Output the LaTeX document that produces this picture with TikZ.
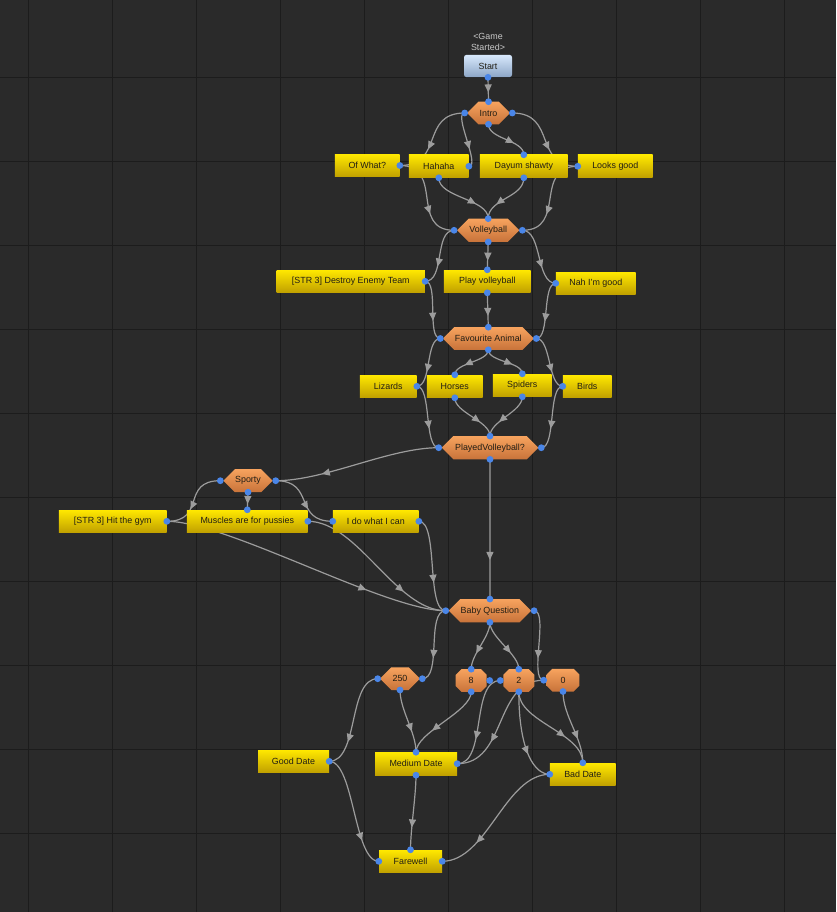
\documentclass[tikz,border=0pt]{standalone}
\usepackage{fontspec}
\setmainfont{Liberation Sans}
\usetikzlibrary{shapes.misc,arrows.meta,decorations.markings}
\definecolor{canvas}{HTML}{2A2A2A}
\definecolor{gridline}{HTML}{1C1C1C}
\definecolor{wire}{HTML}{9C9C9C}
\definecolor{portblue}{HTML}{4A86E8}
\definecolor{answertop}{HTML}{FFE800}
\definecolor{answerbot}{HTML}{C0A000}
\definecolor{questop}{HTML}{F7A35E}
\definecolor{quesbot}{HTML}{C8733A}
\definecolor{starttop}{HTML}{D8E8FC}
\definecolor{startbot}{HTML}{8CA6C6}
\definecolor{nodetext}{HTML}{221E14}
\definecolor{captiontext}{HTML}{C8C8C8}
\pgfdeclarelayer{grid}
\pgfdeclarelayer{wires}
\pgfsetlayers{grid,wires,main}

\begin{document}
\begin{tikzpicture}[x=1pt,y=-1pt,
  every node/.style={font=\fontsize{8.9}{10.5}\selectfont,text=nodetext},
  answer/.style={rectangle,minimum height=22.6pt,inner sep=0pt,top color=answertop,bottom color=answerbot},
  question/.style={chamfered rectangle,chamfered rectangle xsep=8pt,chamfered rectangle ysep=7.5pt,
    minimum height=22.6pt,inner sep=0pt,outer xsep=3pt,outer ysep=0pt,top color=questop,bottom color=quesbot},
  startbox/.style={rectangle,rounded corners=2.5pt,minimum width=48pt,minimum height=22.3pt,inner sep=0pt,
    top color=starttop,bottom color=startbot},
  caption/.style={align=center,text=captiontext,inner sep=0pt},
  link/.style={draw=wire,line width=1.2pt,postaction={decorate},
    decoration={markings,mark=at position #1 with {\arrow{Triangle[width=7pt,length=8pt]}}}},
  link/.default=0.67,
  port/.style={fill=portblue},
  gridrule/.style={draw=gridline,line width=1pt}]
\useasboundingbox (0,0) rectangle (836,912);
\begin{pgfonlayer}{grid}
\fill[canvas] (0,0) rectangle (836,912);
\foreach \i in {0,...,9} \draw[gridrule] (28.3+84*\i,0) -- (28.3+84*\i,912);
\foreach \i in {0,...,9} \draw[gridrule] (0,77.3+84*\i) -- (836,77.3+84*\i);
\end{pgfonlayer}

\node[caption] (gamestarted) at (488,42) {<Game\\Started>};
\node[startbox] (start) at (488,66) {Start};

\node[question,minimum width=41.6pt] (intro) at (488.5,113) {Intro};
\node[answer,minimum width=64.7pt] (ofwhat) at (367.3,165.5) {Of What?};
\node[answer,minimum width=59.7pt] (hahaha) at (438.8,166.3) {Hahaha};
\node[answer,minimum width=87.7pt] (dayum) at (523.8,166.3) {Dayum shawty};
\node[answer,minimum width=74.7pt] (looks) at (615.3,166.3) {Looks good};

\node[question,minimum width=62.3pt] (volleyball) at (488.2,230.3) {Volleyball};
\node[answer,minimum width=148.3pt] (destroy) at (350.8,281.3) {[STR 3] Destroy Enemy Team};
\node[answer,minimum width=86.7pt] (playvb) at (487.3,281.3) {Play volleyball};
\node[answer,minimum width=79.7pt] (nah) at (595.8,283.3) {Nah I'm good};

\node[question,minimum width=90pt] (favanimal) at (488.3,338.5) {Favourite Animal};
\node[answer,minimum width=56.7pt] (lizards) at (388.3,386.3) {Lizards};
\node[answer,minimum width=55.7pt] (horses) at (454.8,386.3) {Horses};
\node[answer,minimum width=58.7pt] (spiders) at (522.3,385.3) {Spiders};
\node[answer,minimum width=48.7pt] (birds) at (587.3,386.3) {Birds};

\node[question,minimum width=96.6pt] (played) at (490,447.7) {PlayedVolleyball?};
\node[question,minimum width=49.4pt] (sporty) at (248,480.7) {Sporty};
\node[answer,minimum width=107.7pt] (gym) at (112.8,521.3) {[STR 3] Hit the gym};
\node[answer,minimum width=120.7pt] (muscles) at (247.3,521.3) {Muscles are for pussies};
\node[answer,minimum width=85.7pt] (ido) at (375.8,521.3) {I do what I can};

\node[question,minimum width=82.3pt] (babyq) at (489.9,610.7) {Baby Question};
\node[question,minimum width=38.6pt] (n250) at (400,678.7) {250};
\node[question,minimum width=31pt] (n8) at (471.2,680.5) {8};
\node[question,minimum width=31pt] (n2) at (518.8,680.5) {2};
\node[question,minimum width=32.6pt] (n0) at (563,680.2) {0};
\node[answer,minimum width=71pt] (gooddate) at (293.5,761.3) {Good Date};
\node[answer,minimum width=82pt] (meddate) at (416,763.7) {Medium Date};
\node[answer,minimum width=65.7pt] (baddate) at (582.8,774.3) {Bad Date};
\node[answer,minimum width=63pt] (farewell) at (410.5,861.3) {Farewell};

\begin{pgfonlayer}{wires}
\draw[link=0.62] (start.south) -- (intro.north);
\draw[link=0.62] (intro.west) .. controls +(-45,0) and +(45,0) .. (ofwhat.east);
\draw[link] (intro.west) .. controls +(-12,0) and +(12,0) .. (hahaha.east);
\draw[link] (intro.south) .. controls +(0,15) and +(0,-15) .. (dayum.north);
\draw[link=0.62] (intro.east) .. controls +(45,0) and +(-45,0) .. (looks.west);
\draw[link] (ofwhat.east) .. controls +(45,0) and +(-45,0) .. (volleyball.west);
\draw[link=0.7] (hahaha.south) .. controls +(0,20) and +(0,-20) .. (volleyball.north);
\draw[link=0.7] (dayum.south) .. controls +(0,20) and +(0,-20) .. (volleyball.north);
\draw[link] (looks.west) .. controls +(-45,0) and +(45,0) .. (volleyball.east);
\draw[link] (volleyball.west) .. controls +(-20,0) and +(20,0) .. (destroy.east);
\draw[link] (volleyball.south) -- (playvb.north);
\draw[link] (volleyball.east) .. controls +(20,0) and +(-20,0) .. (nah.west);
\draw[link] (destroy.east) .. controls +(14,0) and +(-14,0) .. (favanimal.west);
\draw[link] (playvb.south) -- (favanimal.north);
\draw[link] (nah.west) .. controls +(-14,0) and +(14,0) .. (favanimal.east);
\draw[link] (favanimal.west) .. controls +(-15,0) and +(15,0) .. (lizards.east);
\draw[link] (favanimal.south) .. controls +(0,12) and +(0,-12) .. (horses.north);
\draw[link] (favanimal.south) .. controls +(0,12) and +(0,-12) .. (spiders.north);
\draw[link] (favanimal.east) .. controls +(15,0) and +(-15,0) .. (birds.west);
\draw[link] (lizards.east) .. controls +(15,0) and +(-15,0) .. (played.west);
\draw[link] (horses.south) .. controls +(0,15) and +(0,-15) .. (played.north);
\draw[link] (spiders.south) .. controls +(0,15) and +(0,-15) .. (played.north);
\draw[link] (birds.west) .. controls +(-15,0) and +(15,0) .. (played.east);
\draw[link=0.72] (played.west) .. controls +(-50,0) and +(50,0) .. (sporty.east);
\draw[link=0.72] (played.south) -- (babyq.north);
\draw[link=0.62] (sporty.west) .. controls +(-40,0) and +(40,0) .. (gym.east);
\draw[link] (sporty.south) -- (muscles.north);
\draw[link=0.62] (sporty.east) .. controls +(40,0) and +(-40,0) .. (ido.west);
\draw[link=0.72] (gym.east) .. controls +(60,0) and +(-60,0) .. (babyq.west);
\draw[link=0.72] (muscles.east) .. controls +(50,0) and +(-50,0) .. (babyq.west);
\draw[link] (ido.east) .. controls +(20,0) and +(-20,0) .. (babyq.west);
\draw[link] (babyq.west) .. controls +(-20,0) and +(20,0) .. (n250.east);
\draw[link] (babyq.south) .. controls +(0,15) and +(0,-15) .. (n8.north);
\draw[link] (babyq.south) .. controls +(0,15) and +(0,-15) .. (n2.north);
\draw[link] (babyq.east) .. controls +(15,0) and +(-15,0) .. (n0.west);
\draw[link=0.72] (n250.west) .. controls +(-30,0) and +(30,0) .. (gooddate.east);
\draw[link] (n250.south) .. controls +(0,20) and +(0,-20) .. (meddate.north);
\draw[link] (n8.south) .. controls +(0,20) and +(0,-20) .. (meddate.north);
\draw[link] (n2.west) .. controls +(-30,0) and +(30,0) .. (meddate.east);
\draw[link] (n0.west) .. controls +(-50,0) and +(50,0) .. (meddate.east);
\draw[link] (n2.south) .. controls +(0,60) and +(-15,0) .. (baddate.west);
\draw[link] (n2.south) .. controls +(0,30) and +(0,-30) .. (baddate.north);
\draw[link] (n0.south) .. controls +(0,25) and +(0,-25) .. (baddate.north);
\draw[link=0.72] (baddate.west) .. controls +(-45,0) and +(45,0) .. (farewell.east);
\draw[link=0.76] (gooddate.east) .. controls +(25,0) and +(-25,0) .. (farewell.west);
\draw[link=0.7] (meddate.south) .. controls +(0,20) and +(0,-20) .. (farewell.north);
\end{pgfonlayer}

\fill[port] (start.south) circle (3.4pt)
  (intro.north) circle (3.4pt) (intro.west) circle (3.4pt) (intro.east) circle (3.4pt) (intro.south) circle (3.4pt)
  (ofwhat.east) circle (3.4pt) (hahaha.east) circle (3.4pt) (hahaha.south) circle (3.4pt)
  (dayum.north) circle (3.4pt) (dayum.south) circle (3.4pt) (looks.west) circle (3.4pt)
  (volleyball.north) circle (3.4pt) (volleyball.west) circle (3.4pt) (volleyball.east) circle (3.4pt) (volleyball.south) circle (3.4pt)
  (destroy.east) circle (3.4pt) (playvb.north) circle (3.4pt) (playvb.south) circle (3.4pt) (nah.west) circle (3.4pt)
  (favanimal.north) circle (3.4pt) (favanimal.west) circle (3.4pt) (favanimal.east) circle (3.4pt) (favanimal.south) circle (3.4pt)
  (lizards.east) circle (3.4pt) (horses.north) circle (3.4pt) (horses.south) circle (3.4pt)
  (spiders.north) circle (3.4pt) (spiders.south) circle (3.4pt) (birds.west) circle (3.4pt)
  (played.north) circle (3.4pt) (played.west) circle (3.4pt) (played.east) circle (3.4pt) (played.south) circle (3.4pt)
  (sporty.west) circle (3.4pt) (sporty.east) circle (3.4pt) (sporty.south) circle (3.4pt)
  (gym.east) circle (3.4pt) (muscles.north) circle (3.4pt) (muscles.east) circle (3.4pt)
  (ido.west) circle (3.4pt) (ido.east) circle (3.4pt)
  (babyq.north) circle (3.4pt) (babyq.west) circle (3.4pt) (babyq.east) circle (3.4pt) (babyq.south) circle (3.4pt)
  (n250.west) circle (3.4pt) (n250.east) circle (3.4pt) (n250.south) circle (3.4pt)
  (n8.north) circle (3.4pt) (n8.east) circle (3.4pt) (n8.south) circle (3.4pt)
  (n2.north) circle (3.4pt) (n2.west) circle (3.4pt) (n2.south) circle (3.4pt)
  (n0.west) circle (3.4pt) (n0.south) circle (3.4pt)
  (gooddate.east) circle (3.4pt) (meddate.north) circle (3.4pt) (meddate.east) circle (3.4pt) (meddate.south) circle (3.4pt)
  (baddate.west) circle (3.4pt) (baddate.north) circle (3.4pt)
  (farewell.west) circle (3.4pt) (farewell.east) circle (3.4pt) (farewell.north) circle (3.4pt);
\end{tikzpicture}
\end{document}
